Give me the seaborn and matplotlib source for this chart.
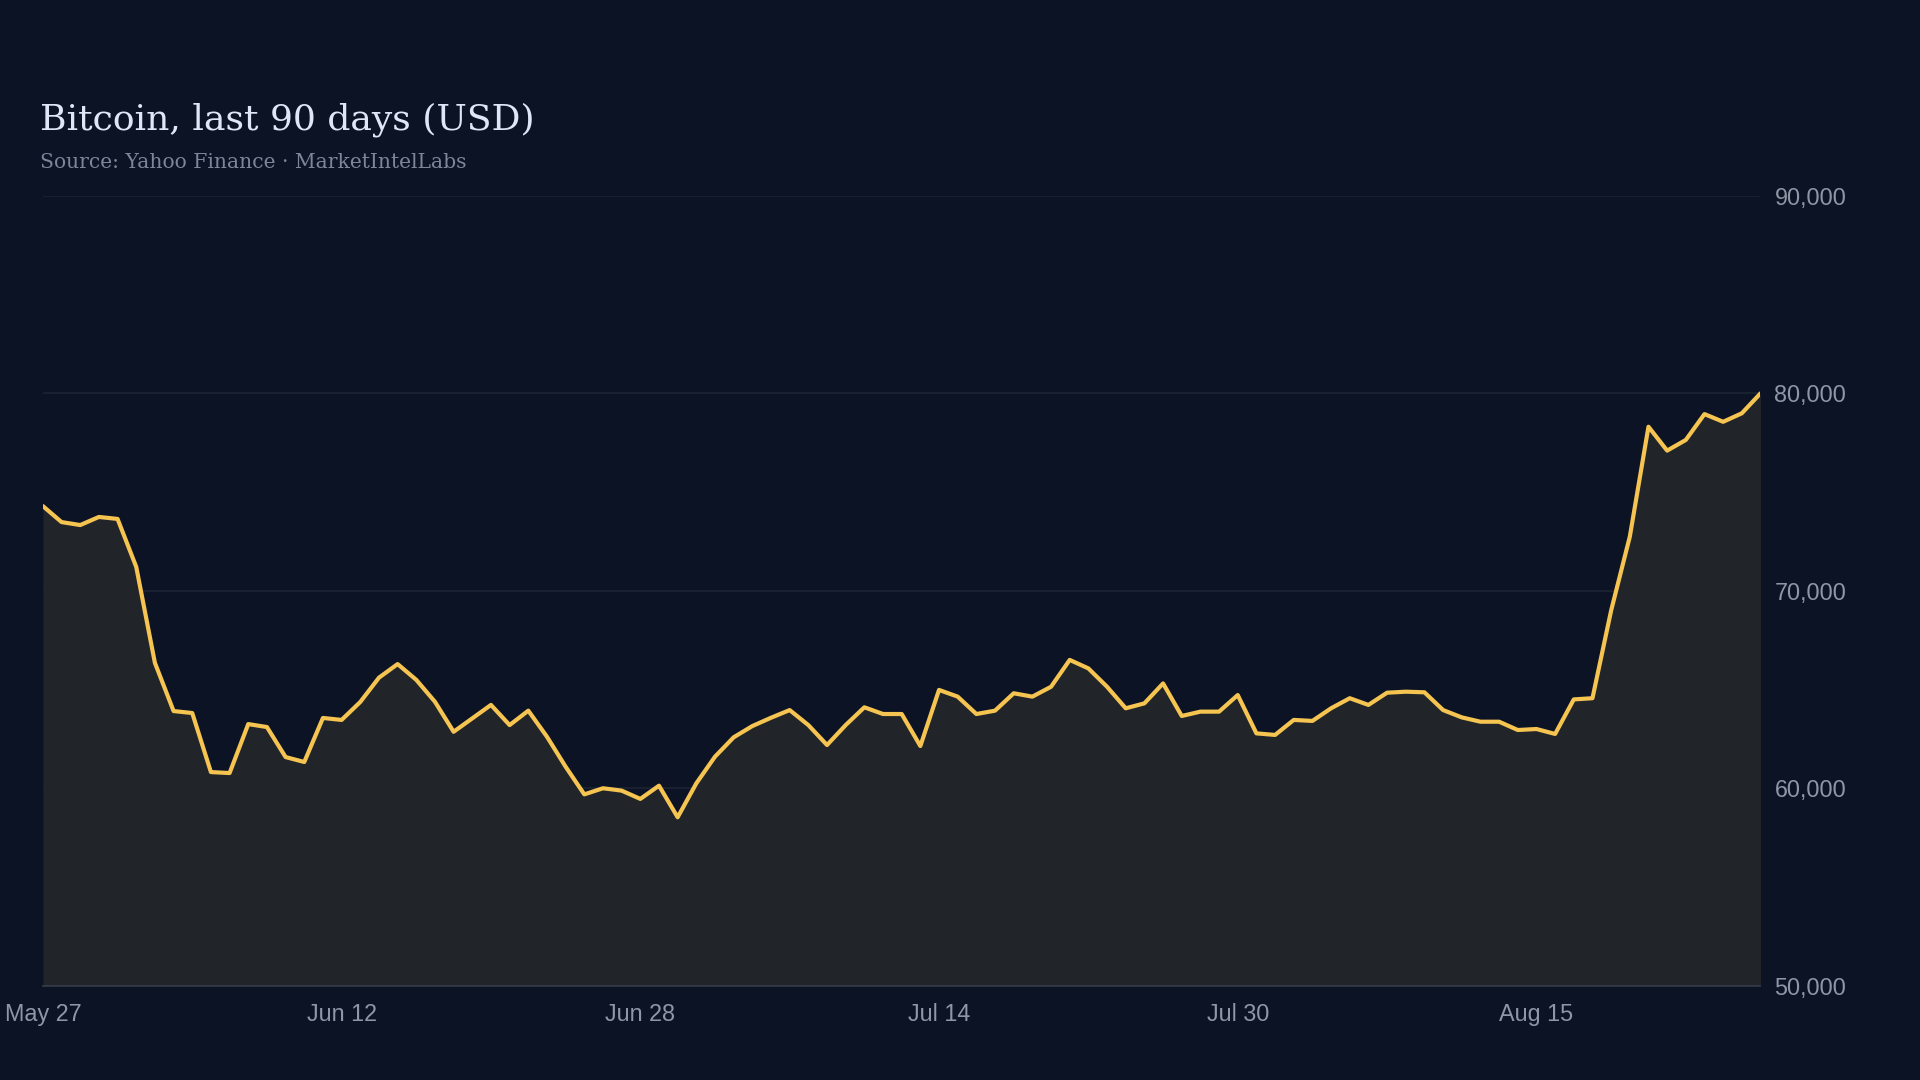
import pandas as pd
import seaborn as sns
import matplotlib.pyplot as plt
import matplotlib.dates as mdates
from matplotlib.ticker import FuncFormatter

# Daily closes (USD), May 27 -> Aug 27
start_date = "2024-05-27"
prices = [
    74290, 73480, 73330, 73740, 73640, 71210, 66350, 63910, 63810, 60820,
    60770, 63250, 63100, 61580, 61330, 63560, 63460, 64370, 65600, 66290,
    65490, 64380, 62860, 63540, 64220, 63200, 63930, 62610, 61090, 59690,
    60000, 59880, 59460, 60130, 58530, 60250, 61600, 62580, 63150, 63570,
    63960, 63200, 62190, 63200, 64100, 63760, 63760, 62140, 64980, 64640,
    63760, 63930, 64810, 64640, 65140, 66500, 66070, 65140, 64050, 64300,
    65310, 63660, 63880, 63880, 64720, 62780, 62700, 63460, 63410, 64050,
    64560, 64220, 64840, 64890, 64860, 63960, 63590, 63370, 63370, 62950,
    63000, 62750, 64500, 64560, 69000, 72740, 78310, 77100, 77640, 78950,
    78560, 78990, 80000,
]
y_ticks = [50000, 60000, 70000, 80000, 90000]
title = "Bitcoin, last 90 days (USD)"
subtitle = "Source: Yahoo Finance \u00b7 MarketIntelLabs"

df = pd.DataFrame({
    "date": pd.date_range(start_date, periods=len(prices), freq="D"),
    "price": prices,
})
x_ticks = df["date"].iloc[::16]

bg = "#0c1324"
sns.set_theme(style="dark")
plt.rcParams["font.family"] = ["Liberation Sans", "DejaVu Sans"]

fig = plt.figure(figsize=(19.2, 10.8), dpi=100, facecolor=bg)
ax = fig.add_axes([0.02234, 0.08731, 0.89458, 0.7313])
ax.set_facecolor(bg)

# area under the line
ax.fill_between(df["date"], df["price"], y_ticks[0], color="#212428", lw=0, zorder=1)
sns.lineplot(data=df, x="date", y="price", ax=ax, color="#f5c451", linewidth=3.0,
             solid_joinstyle="round", solid_capstyle="round", zorder=3)

ax.set_xlim(df["date"].iloc[0], df["date"].iloc[-1])
ax.set_ylim(y_ticks[0], y_ticks[-1])

ax.set_yticks(y_ticks)
ax.yaxis.tick_right()
ax.yaxis.set_major_formatter(FuncFormatter(lambda v, p: f"{v:,.0f}"))
ax.set_xticks(x_ticks)
ax.xaxis.set_major_formatter(mdates.DateFormatter("%b %d"))

ax.grid(axis="y", color="#1c2533", linewidth=1.2)
ax.grid(axis="x", visible=False)
ax.set_axisbelow(True)
ax.tick_params(axis="y", length=0, pad=10, labelsize=16.8, colors="#8f97a6")
ax.tick_params(axis="x", length=0, pad=12.5, labelsize=16.8, colors="#8f97a6")
for lab in ax.get_yticklabels():
    lab.set_horizontalalignment("left")

for side in ["top", "left", "right"]:
    ax.spines[side].set_visible(False)
ax.spines["bottom"].set_color("#363d4a")
ax.spines["bottom"].set_linewidth(1.2)
ax.set_xlabel("")
ax.set_ylabel("")

fig.text(0.0208, 0.8803, title, family=["DejaVu Serif"], fontsize=26,
         color="#dfe6f5", va="baseline", ha="left")
fig.text(0.0208, 0.8447, subtitle, family=["DejaVu Serif"], fontsize=14.6,
         color="#7d8699", va="baseline", ha="left")

fig.savefig("out.png", dpi=100, facecolor=bg)
